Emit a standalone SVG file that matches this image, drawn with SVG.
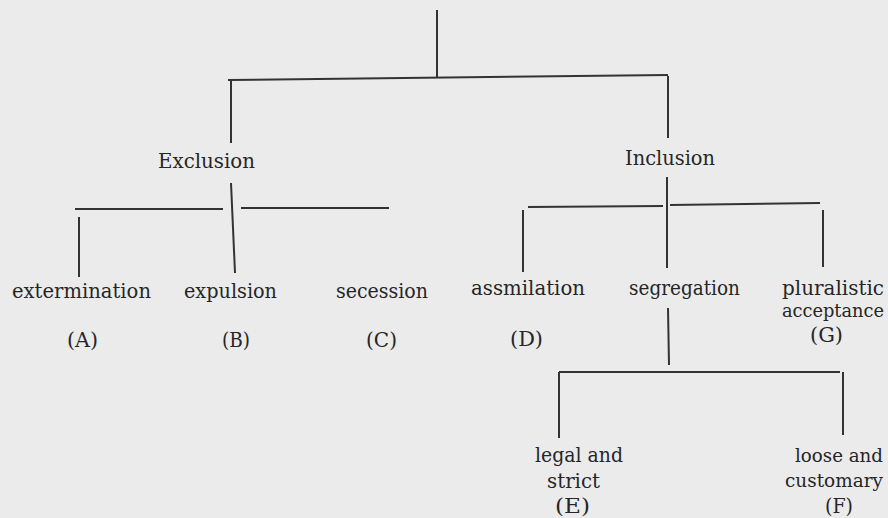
<svg xmlns="http://www.w3.org/2000/svg" width="888" height="518" viewBox="0 0 888 518">
<style>
.t{font-family:"DejaVu Serif","Liberation Serif",serif;font-size:20px;fill:#262626}
.s{font-size:18px}
.c line{stroke:#333333;stroke-width:2;stroke-linecap:butt}
</style>
<rect x="0" y="0" width="888" height="518" fill="#ebebeb"/>
<g class="c" id="connectors">
<line x1="437" y1="10" x2="437" y2="78"/>
<line x1="228" y1="80" x2="668" y2="75"/>
<line x1="231" y1="80" x2="231" y2="143"/>
<line x1="668" y1="76" x2="668" y2="138"/>
<line x1="231" y1="183" x2="235" y2="273"/>
<line x1="75" y1="209" x2="223" y2="209"/>
<line x1="241" y1="208" x2="389" y2="208"/>
<line x1="79" y1="217" x2="79" y2="277"/>
<line x1="667" y1="177" x2="667" y2="268"/>
<line x1="528" y1="207" x2="663" y2="206"/>
<line x1="670" y1="205" x2="820" y2="203"/>
<line x1="523" y1="210" x2="523" y2="272"/>
<line x1="823" y1="210" x2="823" y2="267"/>
<line x1="668" y1="308" x2="669" y2="365"/>
<line x1="559" y1="372" x2="840" y2="372"/>
<line x1="559" y1="372" x2="559" y2="438"/>
<line x1="843" y1="372" x2="843" y2="435"/>
</g>
<g id="exclusion"><text class="t" x="158" y="168" textLength="97" lengthAdjust="spacingAndGlyphs">Exclusion</text></g>
<g id="inclusion"><text class="t" x="625" y="165" textLength="90" lengthAdjust="spacingAndGlyphs">Inclusion</text></g>
<g id="extermination"><text class="t" x="12" y="298" textLength="139" lengthAdjust="spacingAndGlyphs">extermination</text><text class="t" x="67" y="347" textLength="31" lengthAdjust="spacingAndGlyphs">(A)</text></g>
<g id="expulsion"><text class="t" x="184" y="298" textLength="93" lengthAdjust="spacingAndGlyphs">expulsion</text><text class="t" x="222" y="347" textLength="28" lengthAdjust="spacingAndGlyphs">(B)</text></g>
<g id="secession"><text class="t" x="336" y="298" textLength="92" lengthAdjust="spacingAndGlyphs">secession</text><text class="t" x="366" y="347" textLength="31" lengthAdjust="spacingAndGlyphs">(C)</text></g>
<g id="assimilation"><text class="t" x="471" y="295" textLength="114" lengthAdjust="spacingAndGlyphs">assmilation</text><text class="t" x="510" y="346" textLength="33" lengthAdjust="spacingAndGlyphs">(D)</text></g>
<g id="segregation"><text class="t" x="629" y="295" textLength="111" lengthAdjust="spacingAndGlyphs">segregation</text></g>
<g id="pluralistic"><text class="t" x="782" y="295" textLength="102" lengthAdjust="spacingAndGlyphs">pluralistic</text><text class="t s" x="782" y="317" textLength="102" lengthAdjust="spacingAndGlyphs">acceptance</text><text class="t" x="810" y="342" textLength="33" lengthAdjust="spacingAndGlyphs">(G)</text></g>
<g id="legal"><text class="t" x="535" y="462" textLength="88" lengthAdjust="spacingAndGlyphs">legal and</text><text class="t" x="547" y="488" textLength="53" lengthAdjust="spacingAndGlyphs">strict</text><text class="t" x="555" y="513" textLength="35" lengthAdjust="spacingAndGlyphs">(E)</text></g>
<g id="loose"><text class="t s" x="795" y="462" textLength="88" lengthAdjust="spacingAndGlyphs">loose and</text><text class="t s" x="785" y="487" textLength="98" lengthAdjust="spacingAndGlyphs">customary</text><text class="t" x="825" y="513" textLength="28" lengthAdjust="spacingAndGlyphs">(F)</text></g>
</svg>
